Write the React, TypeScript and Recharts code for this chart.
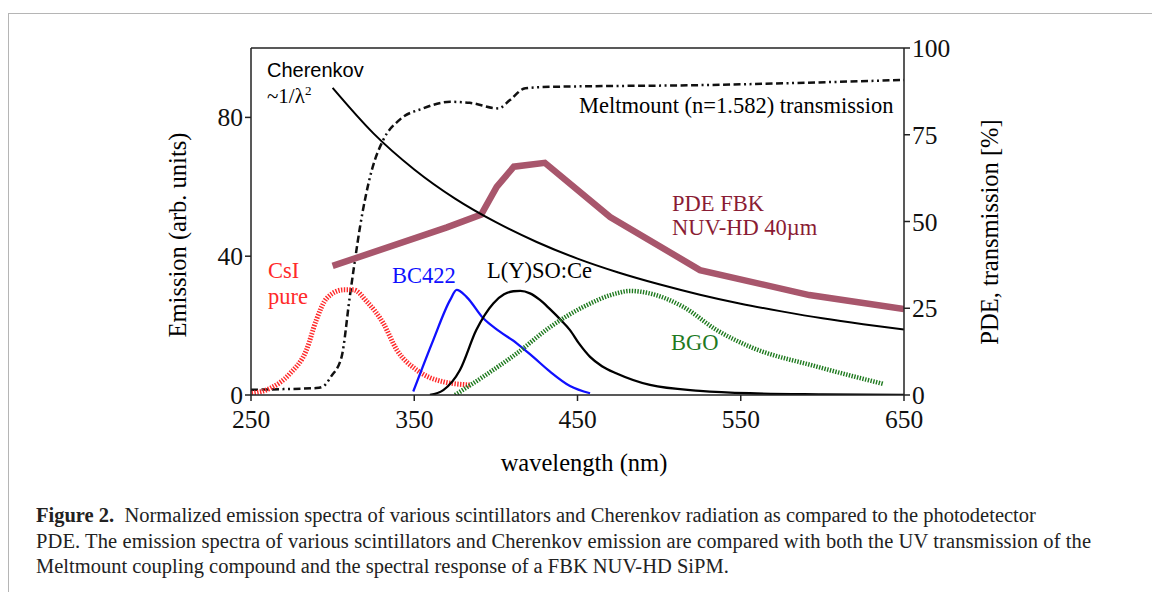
import React from "react";
import { ComposedChart, Line, XAxis, YAxis, ReferenceLine } from "recharts";

// wavelength (nm) / value pairs
const cherenkovNm = [300, 325, 350, 375, 400, 425, 450, 475, 500, 525, 550, 575, 600, 625, 650];
const cherenkovVal = [88.5, 75.4, 65.0, 56.6, 49.8, 44.1, 39.3, 35.3, 31.9, 28.9, 26.3, 24.1, 22.1, 20.4, 18.9];

const pdeNm = [300, 370, 391, 400.5, 411, 430, 470, 525, 592, 650];
const pdeVal = [37.2, 48.3, 52.0, 60.0, 65.8, 66.9, 51.3, 36.0, 28.8, 24.8];

const meltNm = [250, 270, 290, 294, 299, 305.5, 310.5, 313.7, 316.8, 324, 331, 341, 355.5, 372, 384, 401.5, 408.6, 418, 433, 525, 650];
const meltVal = [1.5, 1.7, 2.0, 2.4, 5.3, 11.0, 28.3, 38.9, 48.5, 64.8, 73.5, 79.3, 82.6, 84.5, 84.2, 82.6, 85.0, 88.4, 88.8, 89.3, 90.8];

const csiNm = [250.4, 261.6, 273.9, 284, 290, 296.4, 306.5, 312.7, 321, 331, 339.3, 351.5, 367.8, 384];
const csiVal = [0.5, 1.9, 6.2, 13.0, 21.6, 27.9, 30.3, 30.3, 26.9, 20.7, 13.0, 7.2, 3.8, 2.9];

const bcNm = [349.4, 361.7, 372, 376, 382, 392.3, 402, 412.8, 423, 433, 445.4, 457.7];
const bcVal = [1.0, 15.9, 27.4, 30.3, 28.3, 22.1, 18.4, 14.9, 10.9, 6.8, 2.6, 0.5];

const lysoNm = [359.6, 367.8, 378, 388, 398.4, 405, 410.7, 415, 420.9, 427, 433, 440, 445.4, 451, 457.7, 465, 474, 494.4, 525, 555.7, 600, 650];
const lysoVal = [0, 1.4, 7.2, 18.7, 26.4, 29.0, 29.9, 30.0, 29.3, 27.4, 24.8, 21.5, 18.7, 14.8, 11.0, 8.3, 6.2, 2.9, 1.2, 0.5, 0.2, 0];

const bgoNm = [375, 392.3, 412.8, 433, 453.6, 474, 482, 494, 514.8, 535.3, 555.7, 596.5, 637.3];
const bgoVal = [0, 5.3, 12.0, 19.5, 25.4, 29.3, 30.0, 29.3, 25.4, 18.7, 13.9, 8.2, 3.2];

const xTicks = [250, 350, 450, 550, 650];
const leftTicks = [0, 40, 80];
const rightTicks = [0, 25, 50, 75, 100];

const captionLines = [
  "Normalized emission spectra of various scintillators and Cherenkov radiation as compared to the photodetector",
  "PDE. The emission spectra of various scintillators and Cherenkov emission are compared with both the UV transmission of the",
  "Meltmount coupling compound and the spectral response of a FBK NUV-HD SiPM.",
];

const zip = (xs: number[], ys: number[]) => xs.map((x, i) => ({ x, y: ys[i] }));

const serif = "'Liberation Serif', 'DejaVu Serif', serif";
const sans = "'Liberation Sans', Arial, sans-serif";

const tickStyle = { fontFamily: serif, fontSize: 25.5, fill: "#111" };

const label = (
  text: React.ReactNode,
  left: number,
  top: number,
  color: string,
  font = serif,
  size = 22.5
) => (
  <div
    style={{
      position: "absolute",
      left,
      top,
      color,
      fontFamily: font,
      fontSize: size,
      whiteSpace: "nowrap",
      lineHeight: 1,
    }}
  >
    {text}
  </div>
);

export default function App() {
  return (
    <div
      style={{
        position: "absolute",
        left: 0,
        top: 0,
        width: 1152,
        height: 592,
        background: "#fff",
        overflow: "hidden",
      }}
    >
      <div
        style={{
          position: "absolute",
          left: 8,
          top: 13,
          width: 1160,
          height: 600,
          border: "1.5px solid #b5b5b5",
        }}
      />
      <div style={{ position: "absolute", left: 0, top: 0 }}>
        <ComposedChart
          width={1152}
          height={592}
          margin={{ top: 48, left: 191, right: 188, bottom: 157 }}
        >
          <XAxis
            dataKey="x"
            type="number"
            domain={[250, 650]}
            ticks={xTicks}
            allowDataOverflow
            height={40}
            tick={tickStyle}
            tickSize={6}
            tickMargin={9}
            stroke="#222"
            strokeWidth={1.5}
          />
          <YAxis
            yAxisId="left"
            domain={[0, 100]}
            ticks={leftTicks}
            width={60}
            tick={tickStyle}
            tickSize={6}
            tickMargin={2}
            stroke="#222"
            strokeWidth={1.5}
            allowDataOverflow
          />
          <YAxis
            yAxisId="right"
            orientation="right"
            domain={[0, 100]}
            ticks={rightTicks}
            width={60}
            tick={tickStyle}
            tickSize={6}
            tickMargin={2}
            stroke="#222"
            strokeWidth={1.5}
            allowDataOverflow
          />
          <ReferenceLine yAxisId="right" y={100} stroke="#222" strokeWidth={1.5} />
          <Line
            yAxisId="right"
            data={zip(meltNm, meltVal)}
            dataKey="y"
            type="monotone"
            stroke="#111"
            strokeWidth={2.5}
            strokeDasharray="7 3.5 7 3.5 7 3.5 2 3.5 2 3.5"
            dot={false}
            isAnimationActive={false}
          />
          <Line
            yAxisId="right"
            data={zip(pdeNm, pdeVal)}
            dataKey="y"
            type="linear"
            stroke="#a8566c"
            strokeWidth={6.5}
            dot={false}
            isAnimationActive={false}
          />
          <Line
            yAxisId="left"
            data={zip(cherenkovNm, cherenkovVal)}
            dataKey="y"
            type="monotone"
            stroke="#000"
            strokeWidth={2}
            dot={false}
            isAnimationActive={false}
          />
          <Line
            yAxisId="left"
            data={zip(csiNm, csiVal)}
            dataKey="y"
            type="monotone"
            stroke="#ff2a2a"
            strokeWidth={5}
            strokeDasharray="1.4 1.4"
            dot={false}
            isAnimationActive={false}
          />
          <Line
            yAxisId="left"
            data={zip(bcNm, bcVal)}
            dataKey="y"
            type="monotone"
            stroke="#1010ff"
            strokeWidth={2.3}
            dot={false}
            isAnimationActive={false}
          />
          <Line
            yAxisId="left"
            data={zip(lysoNm, lysoVal)}
            dataKey="y"
            type="monotone"
            stroke="#000"
            strokeWidth={2.3}
            dot={false}
            isAnimationActive={false}
          />
          <Line
            yAxisId="left"
            data={zip(bgoNm, bgoVal)}
            dataKey="y"
            type="monotone"
            stroke="#1f7a1f"
            strokeWidth={4.5}
            strokeDasharray="1.4 1.4"
            dot={false}
            isAnimationActive={false}
          />
        </ComposedChart>
      </div>

      {label("Cherenkov", 267, 60, "#000", sans, 20)}
      {label(
        <span>
          ~1/λ<sup style={{ fontSize: 13 }}>2</sup>
        </span>,
        267,
        84,
        "#000",
        serif,
        21
      )}
      {label("Meltmount (n=1.582) transmission", 579, 95, "#000")}
      {label("PDE FBK", 672, 193, "#8a1c34")}
      {label("NUV-HD 40µm", 672, 217, "#8a1c34")}
      {label("CsI", 268, 260, "#ff2a2a")}
      {label("pure", 268, 286, "#ff2a2a")}
      {label("BC422", 392, 265, "#1010ff")}
      {label("L(Y)SO:Ce", 487, 260, "#000")}
      {label("BGO", 671, 332, "#1f7a1f")}

      <div
        style={{
          position: "absolute",
          left: 178,
          top: 235,
          transform: "translate(-50%, -50%) rotate(-90deg)",
          fontFamily: serif,
          fontSize: 24.5,
          whiteSpace: "nowrap",
        }}
      >
        Emission (arb. units)
      </div>
      <div
        style={{
          position: "absolute",
          left: 990,
          top: 232,
          transform: "translate(-50%, -50%) rotate(-90deg)",
          fontFamily: serif,
          fontSize: 24.5,
          whiteSpace: "nowrap",
        }}
      >
        PDE, transmission [%]
      </div>
      <div
        style={{
          position: "absolute",
          left: 584,
          top: 463,
          transform: "translate(-50%, -50%)",
          fontFamily: serif,
          fontSize: 24.5,
          whiteSpace: "nowrap",
        }}
      >
        wavelength (nm)
      </div>

      <div
        style={{
          position: "absolute",
          left: 36,
          top: 503,
          fontFamily: serif,
          fontSize: 20.5,
          lineHeight: "25.5px",
          color: "#222",
          whiteSpace: "nowrap",
        }}
      >
        <div>
          <b>Figure 2.</b>
          {"\u00a0\u00a0"}
          {captionLines[0]}
        </div>
        <div style={{ letterSpacing: 0.1 }}>{captionLines[1]}</div>
        <div>{captionLines[2]}</div>
      </div>
    </div>
  );
}
